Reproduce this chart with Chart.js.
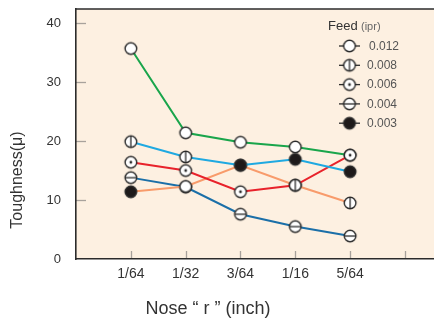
<!DOCTYPE html>
<html>
<head>
<meta charset="utf-8">
<script src="https://cdn.jsdelivr.net/npm/chart.js@4/dist/chart.umd.min.js"></script>
<style>
  html, body { margin: 0; padding: 0; background: #ffffff; }
  #wrap { width: 434px; height: 321px; }
</style>
</head>
<body>
<div id="wrap"><canvas id="c" width="434" height="321"></canvas></div>
<script>
// ---- data ----
const categories = ['1/64', '1/32', '3/64', '1/16', '5/64'];
const yTicks = [0, 10, 20, 30, 40];
const feedLabels = ['0.012', '0.008', '0.006', '0.004', '0.003'];

const greenValues    = [35.7, 21.4, 19.8, 19.0, 17.6];
const cyanValues     = [19.9, 17.3, 15.9, 16.9, 14.8];
const redValues      = [16.4, 15.0, 11.4, 12.5, 17.6];
const orangeValues   = [11.4, 12.3, 15.9, 12.5, 9.5];
const darkBlueValues = [13.8, 12.2, 7.6, 5.5, 3.9];

// marker kinds per point (style)
const greenMarks    = ['open', 'open', 'open', 'open', 'dot'];
const cyanMarks     = ['vbar', 'vbar', 'black', 'black', 'black'];
const redMarks      = ['dot', 'dot', 'dot', 'vbar', 'dot'];
const orangeMarks   = ['black', 'open', 'black', 'vbar', 'vbar'];
const darkBlueMarks = ['hbar', 'open', 'hbar', 'hbar', 'hbar'];
const legendMarks   = ['open', 'vbar', 'dot', 'hbar', 'black'];

const FONT = "'Liberation Sans', Arial, Helvetica, sans-serif";
const INK = '#2b2b2b';

// ---- marker images ----
function makeMarker(kind) {
  const s = 16, c = s / 2, r = 5.8;
  const cv = document.createElement('canvas');
  cv.width = s; cv.height = s;
  const g = cv.getContext('2d');
  g.beginPath();
  g.arc(c, c, r, 0, Math.PI * 2);
  g.fillStyle = kind === 'black' ? '#1e1a1a' : '#ffffff';
  g.fill();
  g.lineWidth = 1.4;
  g.strokeStyle = INK;
  g.stroke();
  g.lineWidth = 1.3;
  if (kind === 'vbar') {
    g.beginPath(); g.moveTo(c, c - r); g.lineTo(c, c + r); g.stroke();
  } else if (kind === 'hbar') {
    g.beginPath(); g.moveTo(c - r, c); g.lineTo(c + r, c); g.stroke();
  } else if (kind === 'dot') {
    g.beginPath(); g.arc(c, c, 1.4, 0, Math.PI * 2); g.fillStyle = INK; g.fill();
  }
  return cv;
}
const markerImgs = {};
['open', 'vbar', 'dot', 'hbar', 'black'].forEach(k => markerImgs[k] = makeMarker(k));

function series(values, marks, color) {
  return {
    data: values.map((v, i) => ({ x: i + 1, y: v })),
    borderColor: color,
    borderWidth: 2,
    pointStyle: marks.map(m => markerImgs[m]),
    pointRadius: 6,
    pointHoverRadius: 6,
    tension: 0,
    fill: false
  };
}

// ---- plugins ----
const decor = {
  id: 'decor',
  beforeDraw(chart) {
    const { ctx, chartArea: a } = chart;
    ctx.save();
    ctx.fillStyle = '#ffffff';
    ctx.fillRect(0, 0, chart.width, chart.height);
    ctx.fillStyle = '#fdf0e1';
    ctx.fillRect(a.left, a.top, a.right - a.left, a.bottom - a.top);
    // inward tick marks
    const xs = chart.scales.x, ys = chart.scales.y;
    ctx.strokeStyle = '#a8a29c';
    ctx.lineWidth = 1.3;
    for (let v = 1; v <= 6; v++) {
      const px = Math.round(xs.getPixelForValue(v)) + 0.5;
      ctx.beginPath(); ctx.moveTo(px, a.bottom); ctx.lineTo(px, a.bottom - 8); ctx.stroke();
    }
    yTicks.forEach(v => {
      if (v === 0) return;
      const py = Math.round(ys.getPixelForValue(v)) + 0.5;
      ctx.beginPath(); ctx.moveTo(a.left, py); ctx.lineTo(a.left + 10, py); ctx.stroke();
    });
    // top border
    ctx.strokeStyle = INK;
    ctx.lineWidth = 1.5;
    ctx.beginPath(); ctx.moveTo(a.left, a.top); ctx.lineTo(a.right, a.top); ctx.stroke();
    ctx.restore();
  },
  afterDraw(chart) {
    const { ctx } = chart;
    ctx.save();
    // axis titles
    ctx.fillStyle = '#333333';
    ctx.textAlign = 'center';
    ctx.textBaseline = 'middle';
    ctx.font = '18px ' + FONT;
    ctx.fillText('Nose \u201c r \u201d (inch)', 208, 309);
    ctx.save();
    ctx.translate(18, 180);
    ctx.rotate(-Math.PI / 2);
    ctx.font = '16px ' + FONT;
    ctx.fillText('Toughness(\u03bc)', 0, 0);
    ctx.restore();
    // legend
    ctx.textAlign = 'left';
    ctx.font = '13px ' + FONT;
    ctx.fillStyle = '#333333';
    ctx.fillText('Feed', 328, 26);
    ctx.font = '11px ' + FONT;
    ctx.fillStyle = '#666666';
    ctx.fillText('(ipr)', 361, 27);
    const rows = [46, 65.3, 84.6, 103.9, 123.2];
    feedLabels.forEach((lab, i) => {
      const y = rows[i];
      ctx.strokeStyle = INK;
      ctx.lineWidth = 1.3;
      ctx.beginPath(); ctx.moveTo(339, y); ctx.lineTo(360, y); ctx.stroke();
      const img = markerImgs[legendMarks[i]];
      ctx.drawImage(img, 349.5 - img.width / 2, y - img.height / 2);
      ctx.font = '12px ' + FONT;
      ctx.fillStyle = '#555555';
      ctx.fillText(lab, i === 0 ? 369 : 367, y + 0.5);
    });
    ctx.restore();
  }
};

new Chart(document.getElementById('c'), {
  type: 'line',
  data: {
    datasets: [
      series(greenValues, greenMarks, '#19a54b'),
      series(cyanValues, cyanMarks, '#1fa9e1'),
      series(redValues, redMarks, '#e8222b'),
      series(orangeValues, orangeMarks, '#f89b6b'),
      series(darkBlueValues, darkBlueMarks, '#1b6fa8')
    ]
  },
  options: {
    responsive: false,
    animation: false,
    events: [],
    layout: { autoPadding: false, padding: { top: 9, right: 0, left: 0, bottom: 0 } },
    plugins: { legend: { display: false }, tooltip: { enabled: false } },
    scales: {
      x: {
        type: 'linear',
        min: 0,
        max: 6.53,
        afterFit(scale) { scale.height = 62; scale.paddingLeft = 0; scale.paddingRight = 0; },
        grid: { display: false, drawTicks: false },
        border: { display: true, color: INK, width: 1.6 },
        ticks: {
          stepSize: 1,
          includeBounds: false,
          autoSkip: false,
          maxRotation: 0,
          padding: 7,
          color: '#333333',
          font: { family: FONT, size: 14 },
          callback: v => (v >= 1 && v <= categories.length ? categories[v - 1] : '')
        }
      },
      y: {
        min: 0,
        max: 42.4,
        afterFit(scale) { scale.width = 76; scale.paddingTop = 0; scale.paddingBottom = 0; },
        grid: { display: false, drawTicks: false },
        border: { display: true, color: INK, width: 1.6 },
        ticks: {
          stepSize: 10,
          includeBounds: false,
          padding: 15,
          color: '#333333',
          font: { family: FONT, size: 13 },
          callback: v => (yTicks.includes(v) ? String(v) : '')
        }
      }
    }
  },
  plugins: [decor]
});
</script>
</body>
</html>
